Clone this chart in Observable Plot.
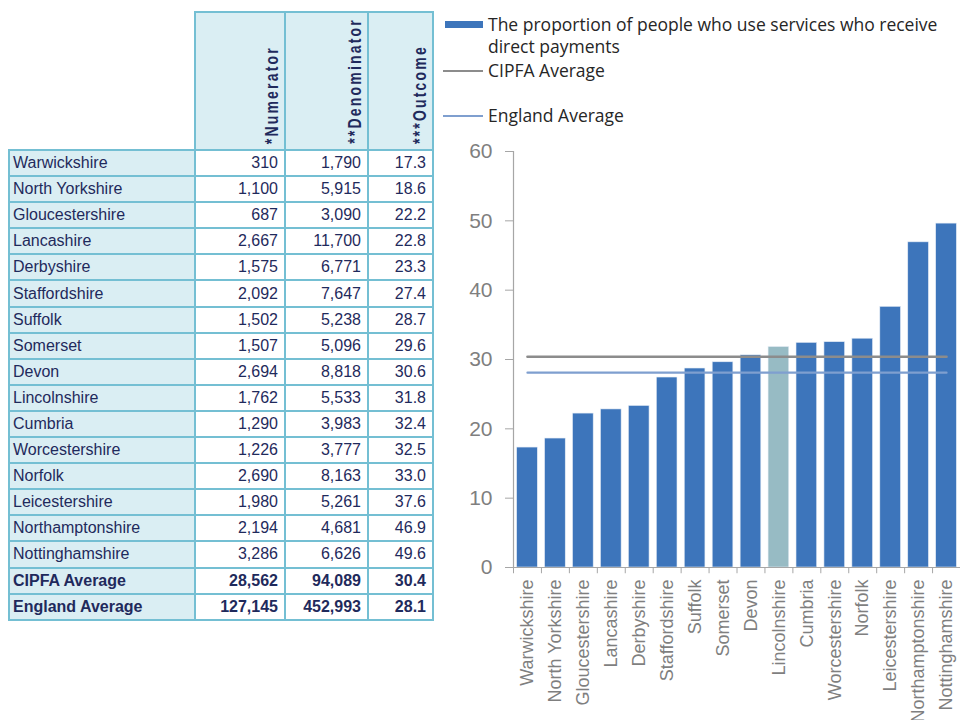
<!DOCTYPE html>
<html>
<head>
<meta charset="utf-8">
<script src="https://cdn.jsdelivr.net/npm/d3@7"></script>
<script src="https://cdn.jsdelivr.net/npm/@observablehq/plot@0.6"></script>
<style>
  html, body { margin: 0; padding: 0; background: #fff; overflow: hidden; }
  body { width: 960px; height: 720px; position: relative; }
  #tbl { position: absolute; left: 8px; top: 11px; }
  table { border-collapse: collapse; font-family: "Liberation Sans", Arial, sans-serif; color: #1F2A5C; table-layout: fixed; }
  td, th { border: 2px solid #74BFD3; padding: 0; }
  td { height: 24.1px; font-size: 16px; line-height: 16px; }
  td.name { background: #DAEEF3; padding-left: 3px; text-align: left; }
  td.num { background: #fff; text-align: right; padding-right: 6px; }
  td.bold { font-weight: bold; }
  th { background: #DAEEF3; height: 136px; vertical-align: bottom; text-align: right; }
  th.blank { background: none; border: none; }
  th .v { display: inline-block; writing-mode: vertical-rl; transform-origin: 50% 50%; transform: rotate(180deg) scaleX(1.35); font-size: 14px; line-height: 16px; font-weight: bold; letter-spacing: 2.2px; margin-right: 5px; margin-bottom: 1px; white-space: nowrap; }
  #legend { position: absolute; left: 0; top: 0; font-family: "Open Sans", sans-serif; font-size: 17.5px; color: #262626; }
  .lg { position: absolute; white-space: nowrap; }
  #chart { position: absolute; left: 440px; top: 130px; }
</style>
</head>
<body>
<div id="tbl"></div>
<div id="legend">
  <div class="lg" style="left:445px; top:21px; width:38px; height:7px; background:#3D75BB"></div>
  <div class="lg" id="lgText1" style="left:488px; top:13px; width:460px; line-height:22px; white-space:normal"></div>
  <div class="lg" style="left:443px; top:70px; width:40px; height:2px; background:#8C8C8C"></div>
  <div class="lg" id="lgText2" style="left:488px; top:59px; line-height:22px"></div>
  <div class="lg" style="left:443px; top:115px; width:40px; height:2px; background:#7F9FCF"></div>
  <div class="lg" id="lgText3" style="left:488px; top:104px; line-height:22px"></div>
</div>
<div id="chart"></div>
<script>
// ---- data ----
const areas = ["Warwickshire","North Yorkshire","Gloucestershire","Lancashire","Derbyshire","Staffordshire","Suffolk","Somerset","Devon","Lincolnshire","Cumbria","Worcestershire","Norfolk","Leicestershire","Northamptonshire","Nottinghamshire"];
const numerators = [310, 1100, 687, 2667, 1575, 2092, 1502, 1507, 2694, 1762, 1290, 1226, 2690, 1980, 2194, 3286];
const denominators = [1790, 5915, 3090, 11700, 6771, 7647, 5238, 5096, 8818, 5533, 3983, 3777, 8163, 5261, 4681, 6626];
const outcomes = [17.3, 18.6, 22.2, 22.8, 23.3, 27.4, 28.7, 29.6, 30.6, 31.8, 32.4, 32.5, 33.0, 37.6, 46.9, 49.6];
const averageNames = ["CIPFA Average", "England Average"];
const averageNumerators = [28562, 127145];
const averageDenominators = [94089, 452993];
const averageOutcomes = [30.4, 28.1];
const headers = ["*Numerator", "**Denominator", "***Outcome"];
const legendLabels = ["The proportion of people who use services who receive direct payments", "CIPFA Average", "England Average"];
const yTicks = [0, 10, 20, 30, 40, 50, 60];
const highlight = "Lincolnshire";

// ---- table ----
const fmt = d3.format(",");
const colW = [186, 90, 83, 65];
let html = "<table><colgroup>" + colW.map(w => `<col style="width:${w}px">`).join("") + "</colgroup>";
html += "<tr><th class='blank'></th>" + headers.map(h => `<th><span class="v">${h}</span></th>`).join("") + "</tr>";
areas.forEach((a, i) => {
  html += `<tr><td class="name">${a}</td><td class="num">${fmt(numerators[i])}</td><td class="num">${fmt(denominators[i])}</td><td class="num">${outcomes[i].toFixed(1)}</td></tr>`;
});
averageNames.forEach((a, i) => {
  html += `<tr><td class="name bold">${a}</td><td class="num bold">${fmt(averageNumerators[i])}</td><td class="num bold">${fmt(averageDenominators[i])}</td><td class="num bold">${averageOutcomes[i].toFixed(1)}</td></tr>`;
});
html += "</table>";
document.getElementById("tbl").innerHTML = html;

document.getElementById("lgText1").textContent = legendLabels[0];
document.getElementById("lgText2").textContent = legendLabels[1];
document.getElementById("lgText3").textContent = legendLabels[2];

// ---- chart ----
const data = areas.map((a, i) => ({name: a, value: outcomes[i]}));
const W = 520, ML = 73, MR = 0;
const step = (W - ML - MR) / areas.length;
const first = areas[0], last = areas[areas.length - 1];
const cipfaLine = [{name: first, v: averageOutcomes[0]}, {name: last, v: averageOutcomes[0]}];
const englandLine = [{name: first, v: averageOutcomes[1]}, {name: last, v: averageOutcomes[1]}];

const chart = Plot.plot({
  width: W,
  height: 590,
  marginLeft: ML,
  marginRight: MR,
  marginTop: 21,
  marginBottom: 153,
  style: {fontFamily: "'Liberation Sans', Arial, sans-serif", background: "transparent"},
  x: {domain: areas, paddingInner: 0.26, paddingOuter: 0.13, round: false, label: null},
  y: {domain: [0, 60], label: null},
  marks: [
    Plot.barY(data, {x: "name", y: "value", fill: d => d.name === highlight ? "#97BBC4" : "#3D75BB", stroke: "#E4ECF5", strokeWidth: 0.6}),
    Plot.ruleY([0], {stroke: "#A6A6A6", strokeWidth: 1.2}),
    Plot.ruleX([first], {x: d => d, dx: -step / 2, y1: 0, y2: 60, stroke: "#A6A6A6", strokeWidth: 1.2}),
    Plot.ruleX(areas, {x: d => d, dx: -step / 2, y1: 0, y2: -0.9, stroke: "#A6A6A6", strokeWidth: 1}),
    Plot.ruleX([last], {x: d => d, dx: step / 2, y1: 0, y2: -0.9, stroke: "#A6A6A6", strokeWidth: 1}),
    Plot.line(cipfaLine, {x: "name", y: "v", stroke: "#8C8C8C", strokeWidth: 2.6}),
    Plot.line(englandLine, {x: "name", y: "v", stroke: "#7F9FCF", strokeWidth: 2.2}),
    Plot.axisY({ticks: yTicks, tickSize: 8, tickPadding: 13, fontSize: 21, color: "#7F7F7F", stroke: "#A6A6A6", tickFormat: d => d}),
    Plot.axisX({tickSize: 0, tickRotate: -90, tickPadding: 12, fontSize: 18, color: "#7F7F7F"})
  ]
});
document.getElementById("chart").appendChild(chart);
</script>
</body>
</html>
